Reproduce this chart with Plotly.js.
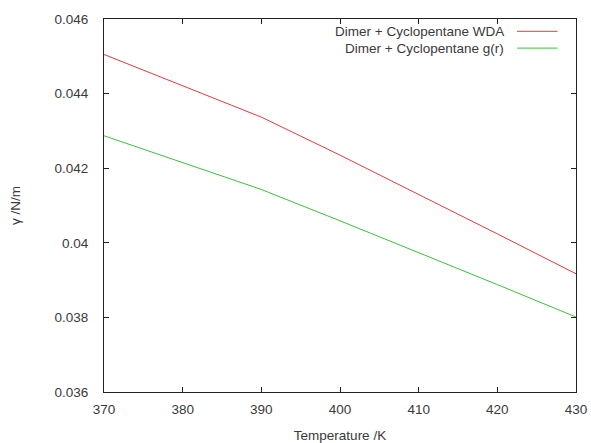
<!DOCTYPE html>
<html>
<head>
<meta charset="utf-8">
<script src="https://cdn.plot.ly/plotly-3.0.1.min.js"></script>
<style>html,body{margin:0;padding:0;background:#fff;}#chart{width:591px;height:443px;}</style>
</head>
<body>
<div id="chart"></div>
<script>
// Data
const temperature = [370, 380, 390, 400, 410, 420, 430];
const gammaWDA = [0.04505, 0.04421, 0.04337, 0.04235, 0.04130, 0.04024, 0.03917];
const gammaGr  = [0.04287, 0.04215, 0.04143, 0.04059, 0.03974, 0.03888, 0.03801];
const seriesNames = ['Dimer + Cyclopentane WDA', 'Dimer + Cyclopentane g(r)'];
const seriesColors = ['#e03c3c', '#3cc03c'];
const xTickVals = [370, 380, 390, 400, 410, 420, 430];
const yTickVals = [0.036, 0.038, 0.04, 0.042, 0.044, 0.046];
const yTickText = ['0.036', '0.038', '0.04', '0.042', '0.044', '0.046'];

const font = {family: 'Liberation Sans, Arial, sans-serif', size: 13.5, color: '#3a3a3a'};

const traces = [gammaWDA, gammaGr].map((ys, i) => ({
  x: temperature, y: ys, type: 'scatter', mode: 'lines',
  name: seriesNames[i], line: {color: seriesColors[i], width: 1}, showlegend: false
}));

// Custom legend (text right-aligned, sample line on the right, gnuplot style)
const legendY = [0.967, 0.922];
const annotations = seriesNames.map((n, i) => ({
  xref: 'paper', yref: 'paper', x: 0.852, y: legendY[i], xanchor: 'right', yanchor: 'middle',
  text: n, showarrow: false, font: font
}));
const shapes = seriesNames.map((n, i) => ({
  type: 'line', xref: 'paper', yref: 'paper', x0: 0.875, x1: 0.961, y0: legendY[i], y1: legendY[i],
  line: {color: seriesColors[i], width: 1}
}));

const axisCommon = {
  showgrid: false, zeroline: false, showline: true, linecolor: '#222', linewidth: 1,
  mirror: 'allticks', ticks: 'inside', ticklen: 5, tickcolor: '#222', tickfont: font
};

const layout = {
  width: 591, height: 443,
  margin: {l: 104, r: 15, t: 19, b: 51},
  paper_bgcolor: '#fff', plot_bgcolor: '#fff',
  font: font,
  xaxis: Object.assign({}, axisCommon, {
    range: [370, 430], tickvals: xTickVals, ticklabelstandoff: 5,
    title: {text: 'Temperature /K', font: font, standoff: 16}
  }),
  yaxis: Object.assign({}, axisCommon, {
    range: [0.036, 0.046], tickvals: yTickVals, ticktext: yTickText, ticklabelstandoff: 12,
    title: {text: 'γ /N/m', font: font, standoff: 30}
  }),
  annotations: annotations,
  shapes: shapes
};

Plotly.newPlot('chart', traces, layout, {displayModeBar: false, staticPlot: true});
</script>
</body>
</html>
